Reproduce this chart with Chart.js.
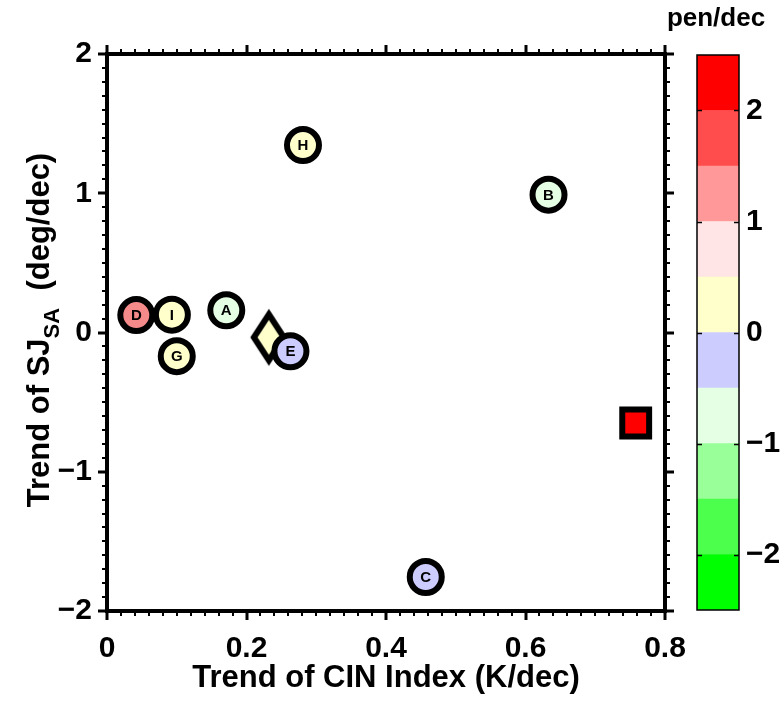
<!DOCTYPE html>
<html><head><meta charset="utf-8">
<script src="https://cdn.jsdelivr.net/npm/chart.js@4.4.0/dist/chart.umd.min.js"></script>
<style>
html,body{margin:0;padding:0;background:#fff;}
#wrap{position:relative;width:783px;height:702px;background:#fff;}
#main{position:absolute;left:0;top:0;}
#cbar{position:absolute;left:600px;top:0;}
</style></head><body>
<div id="wrap">
<canvas id="main" width="783" height="702"></canvas>
<canvas id="cbar" width="183" height="702"></canvas>
</div>
<script>
const FONT = "'Liberation Sans', Arial, Helvetica, sans-serif";
// ---- data ----
const siteLabels = ['D','I','G','A','E','H','B','C'];
const siteX = [0.042, 0.093, 0.100, 0.171, 0.263, 0.281, 0.633, 0.457];
const siteY = [0.125, 0.128, -0.170, 0.160, -0.135, 1.346, 0.990, -1.756];
const siteColors = ['#f48a8a','#ffffcc','#ffffcc','#e5ffe5','#ccccff','#ffffcc','#e5ffe5','#ccccff'];
const meanX = [0.232];
const meanY = [-0.035];
const meanColor = '#ffffcc';
const obsX = [0.758];
const obsY = [-0.650];
const obsColor = '#ff0000';
const xTicks = [0, 0.2, 0.4, 0.6, 0.8];
const yTicks = [-2, -1, 0, 1, 2];
const cbLevels = [-2.5, -2, -1.5, -1, -0.5, 0, 0.5, 1, 1.5, 2, 2.5];
const cbColors = ['#00ff00','#4dff4d','#99ff99','#e5ffe5','#ccccff','#ffffcc','#ffe5e5','#ff9999','#ff4d4d','#ff0000'];
const cbTicks = [-2, -1, 0, 1, 2];
const cbTitle = 'pen/dec';

const fmt = v => (v < 0 ? '\u2212' : '') + String(Math.abs(+(+v).toFixed(2)));

function makeDiamond(fill) {
  const c = document.createElement('canvas'); c.width = 48; c.height = 72;
  const g = c.getContext('2d');
  g.beginPath(); g.moveTo(24, 13); g.lineTo(39, 36); g.lineTo(24, 59); g.lineTo(9, 36); g.closePath();
  g.fillStyle = fill; g.fill();
  g.lineWidth = 6; g.lineJoin = 'miter'; g.strokeStyle = '#000'; g.stroke();
  return c;
}

const framePlugin = {
  id: 'frame',
  afterDraw(chart) {
    const ctx = chart.ctx, a = chart.chartArea, sx = chart.scales.x, sy = chart.scales.y;
    ctx.save();
    ctx.strokeStyle = '#000';
    ctx.lineWidth = 2;
    ctx.beginPath();
    for (let i = 1; i < 40; i++) {
      if (i % 10 === 0) continue;
      const px = Math.round(sx.getPixelForValue(i * 0.02));
      ctx.moveTo(px, a.bottom); ctx.lineTo(px, a.bottom + 5);
      ctx.moveTo(px, a.top); ctx.lineTo(px, a.top - 5);
    }
    for (let i = 1; i < 40; i++) {
      if (i % 10 === 0) continue;
      const py = Math.round(sy.getPixelForValue(-2 + i * 0.1));
      ctx.moveTo(a.left, py); ctx.lineTo(a.left - 5, py);
      ctx.moveTo(a.right, py); ctx.lineTo(a.right + 5, py);
    }
    ctx.stroke();
    ctx.lineWidth = 3;
    ctx.beginPath();
    xTicks.forEach(v => {
      const px = Math.round(sx.getPixelForValue(v));
      ctx.moveTo(px, a.bottom); ctx.lineTo(px, a.bottom + 9);
      ctx.moveTo(px, a.top); ctx.lineTo(px, a.top - 9);
    });
    yTicks.forEach(v => {
      const py = Math.round(sy.getPixelForValue(v));
      ctx.moveTo(a.left, py); ctx.lineTo(a.left - 9, py);
      ctx.moveTo(a.right, py); ctx.lineTo(a.right + 9, py);
    });
    ctx.stroke();
    ctx.lineWidth = 4;
    ctx.strokeRect(a.left, a.top, a.right - a.left, a.bottom - a.top);
    // y title with subscript
    ctx.fillStyle = '#000';
    ctx.textBaseline = 'alphabetic';
    ctx.textAlign = 'left';
    const f1 = 'bold 31px ' + FONT, f2 = 'bold 22px ' + FONT;
    const p1 = 'Trend of SJ', p2 = 'SA', p3 = '  (deg/dec)';
    ctx.font = f1; const w1 = ctx.measureText(p1).width, w3 = ctx.measureText(p3).width;
    ctx.font = f2; const w2 = ctx.measureText(p2).width;
    const total = w1 + w2 + w3;
    const cy = 330;
    ctx.translate(49, cy);
    ctx.rotate(-Math.PI / 2);
    const x0 = -total / 2;
    ctx.font = f1; ctx.fillText(p1, x0, 0);
    ctx.font = f2; ctx.fillText(p2, x0 + w1, 10);
    ctx.font = f1; ctx.fillText(p3, x0 + w1 + w2, 0);
    ctx.restore();
  },
  afterDatasetsDraw(chart) {
    const ctx = chart.ctx;
    const meta = chart.getDatasetMeta(0);
    ctx.save();
    ctx.fillStyle = '#000';
    ctx.font = 'bold 15px ' + FONT;
    ctx.textAlign = 'center';
    ctx.textBaseline = 'middle';
    meta.data.forEach((el, i) => ctx.fillText(siteLabels[i], el.x, el.y + 1));
    ctx.restore();
  }
};

const tickFont = { family: FONT, size: 30, weight: 'bold' };

new Chart(document.getElementById('main'), {
  type: 'scatter',
  data: {
    datasets: [
      { label: 'sites', data: siteX.map((x, i) => ({ x, y: siteY[i] })),
        pointStyle: 'circle', pointRadius: 16, pointHoverRadius: 16,
        backgroundColor: siteColors, borderColor: '#000', borderWidth: 6, pointHoverBorderWidth: 6 },
      { label: 'mean', data: meanX.map((x, i) => ({ x, y: meanY[i] })),
        pointStyle: makeDiamond(meanColor), pointRadius: 20, backgroundColor: meanColor, borderColor: '#000', borderWidth: 0 },
      { label: 'obs', data: obsX.map((x, i) => ({ x, y: obsY[i] })),
        pointStyle: 'rect', pointRadius: 19, pointHoverRadius: 19,
        backgroundColor: obsColor, borderColor: '#000', borderWidth: 6, pointHoverBorderWidth: 6 }
    ]
  },
  options: {
    responsive: false, animation: false, events: [],
    layout: { padding: { top: 54, right: 118, left: 0, bottom: 0 } },
    plugins: { legend: { display: false }, tooltip: { enabled: false } },
    scales: {
      x: {
        type: 'linear', position: 'bottom', min: 0, max: 0.8,
        afterBuildTicks: s => { s.ticks = xTicks.map(v => ({ value: v })); },
        afterFit: s => { s.height = 91; },
        ticks: { font: tickFont, color: '#000', padding: 11, callback: fmt, maxRotation: 0, autoSkip: false },
        grid: { drawOnChartArea: false, drawTicks: true, tickLength: 9, tickWidth: 0, tickColor: 'rgba(0,0,0,0)' },
        border: { display: false },
        title: { display: true, text: 'Trend of CIN Index (K/dec)', color: '#000',
                 font: { family: FONT, size: 31, weight: 'bold' }, padding: { top: 0, bottom: 5 } }
      },
      y: {
        type: 'linear', position: 'left', min: -2, max: 2,
        afterBuildTicks: s => { s.ticks = yTicks.map(v => ({ value: v })); },
        afterFit: s => { s.width = 107; },
        ticks: { font: tickFont, color: '#000', padding: 6, callback: fmt, autoSkip: false },
        grid: { drawOnChartArea: false, drawTicks: true, tickLength: 9, tickWidth: 0, tickColor: 'rgba(0,0,0,0)' },
        border: { display: false }
      }
    }
  },
  plugins: [framePlugin]
});

const cbPlugin = {
  id: 'cbframe',
  afterDraw(chart) {
    const ctx = chart.ctx, a = chart.chartArea, sy = chart.scales.y;
    ctx.save();
    ctx.strokeStyle = '#000';
    ctx.lineWidth = 1.5;
    ctx.strokeRect(a.left, a.top, a.right - a.left, a.bottom - a.top);
    ctx.beginPath();
    cbTicks.forEach(v => {
      const py = Math.round(sy.getPixelForValue(v)) + 0.5;
      ctx.moveTo(a.left, py); ctx.lineTo(a.left + 5, py);
      ctx.moveTo(a.right, py); ctx.lineTo(a.right - 5, py);
    });
    ctx.stroke();
    ctx.fillStyle = '#000';
    ctx.font = 'bold 26px ' + FONT;
    ctx.textAlign = 'center';
    ctx.textBaseline = 'alphabetic';
    ctx.fillText(cbTitle, 116, 26);
    ctx.restore();
  }
};

new Chart(document.getElementById('cbar'), {
  type: 'bar',
  data: {
    labels: ['cb'],
    datasets: cbColors.map((c, i) => ({
      label: 'L' + i, data: [[cbLevels[i], cbLevels[i + 1]]], backgroundColor: c, borderWidth: 0,
      barPercentage: 1, categoryPercentage: 1, grouped: false
    }))
  },
  options: {
    responsive: false, animation: false, events: [],
    layout: { padding: { left: 97, top: 55, bottom: 92, right: 0 } },
    plugins: { legend: { display: false }, tooltip: { enabled: false } },
    scales: {
      x: { display: false },
      y: {
        position: 'right', min: -2.5, max: 2.5,
        afterBuildTicks: s => { s.ticks = cbTicks.map(v => ({ value: v })); },
        afterFit: s => { s.width = 44; },
        ticks: { font: tickFont, color: '#000', padding: 7, callback: fmt, autoSkip: false },
        grid: { display: false, drawTicks: false },
        border: { display: false }
      }
    }
  },
  plugins: [cbPlugin]
});
</script>
</body></html>
